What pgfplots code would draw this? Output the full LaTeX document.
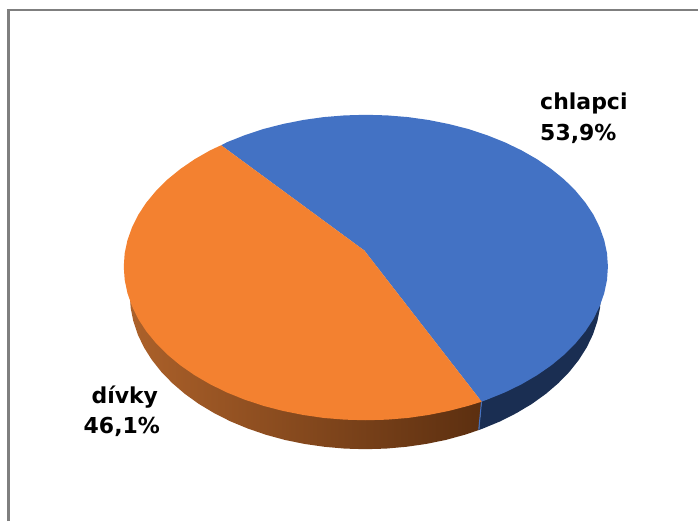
\documentclass[border=0pt]{standalone}
\usepackage{pgfplots}
\usepackage{fontspec}
\pgfplotsset{compat=1.18}
\setmainfont{DejaVu Sans}
\definecolor{boys}{RGB}{67,114,196}
\definecolor{girls}{RGB}{243,129,48}
\definecolor{boysside}{RGB}{26,46,82}
\definecolor{frameline}{RGB}{127,127,127}
\tikzset{slicelabel/.style={inner sep=0pt, text=black, font=\fontsize{22}{26}\selectfont\bfseries}}
\begin{document}
\begin{tikzpicture}
\begin{axis}[
  scale only axis, width=699pt, height=522pt,
  xmin=0, xmax=699, ymin=0, ymax=522, y dir=reverse,
  hide axis, clip=false
]
% full extent of the chart area
\path (axis cs:0,0) rectangle (axis cs:699,522);

% frame of the chart area, open on the right and at the bottom
\addplot[frameline, line width=3.2pt] coordinates {(8.5,522) (8.5,10)};
\addplot[frameline, line width=2.5pt] coordinates {(7,10) (699,10)};

% rim of the girls' slice
\addplot[draw=none, left color={rgb,255:red,172;green,97;blue,42},
         middle color={rgb,255:red,104;green,56;blue,20},
         right color={rgb,255:red,92;green,47;blue,16}] coordinates {
  (130,295) (130.9,308.5) (133.6,321.9) (138,335.1) (144.2,348) (152.1,360.5)
  (161.6,372.5) (172.7,383.9) (185.2,394.6) (199.1,404.6) (214.3,413.7)
  (230.6,422) (248,429.2) (266.3,435.5) (285.3,440.7) (304.9,444.7) (325,447.6)
  (345.4,449.4) (366,450) (386.6,449.4) (407,447.6) (427.1,444.7) (446.7,440.7)
  (465.7,435.5) (480,430.7) (482.5,402) (366,300)
} --cycle;

% rim of the boys' slice
\addplot[draw=none, fill=boysside] coordinates {
  (480,430.7) (484,429.2) (501.4,422) (517.7,413.7) (532.9,404.6) (546.8,394.6)
  (559.3,383.9) (570.4,372.5) (579.9,360.5) (587.8,348) (594,335.1) (598.4,321.9)
  (601.1,308.5) (602,295) (482.5,402)
} --cycle;
\addplot[boys, line width=1pt] coordinates {(482.3,403) (479.6,430.5)};

% top face, boys 53.9
\addplot[draw=none, fill=boys] coordinates {
  (365,251) (221.5,145.5) (227.4,142.5) (245.2,135.4) (264,129.2) (283.6,124.2)
  (303.7,120.2) (324.4,117.3) (345.4,115.6) (366.5,115) (387.6,115.6) (408.6,117.3)
  (429.3,120.2) (449.4,124.2) (469,129.2) (487.8,135.4) (505.6,142.5) (522.4,150.6)
  (538,159.5) (552.3,169.3) (565.2,179.8) (576.5,191) (586.3,202.8) (594.4,215)
  (600.7,227.7) (605.3,240.6) (608.1,253.7) (609,267) (608.1,280.4) (605.3,293.7)
  (600.7,306.9) (594.4,319.7) (586.3,332.1) (576.5,344) (565.2,355.3) (552.3,366)
  (538,375.9) (522.4,385) (505.6,393.2) (487.8,400.4) (482.5,402.4)
} --cycle;

% top face, girls 46.1
\addplot[draw=none, fill=girls] coordinates {
  (365,251) (221.5,145.5) (210.6,150.6) (195,159.5) (180.7,169.3) (167.8,179.8)
  (156.5,191) (146.7,202.8) (138.6,215) (132.3,227.7) (127.7,240.6) (124.9,253.7)
  (124,267) (124.9,280.4) (127.7,293.7) (132.3,306.9) (138.6,319.7) (146.7,332.1)
  (156.5,344) (167.8,355.3) (180.7,366) (195,375.9) (210.6,385) (227.4,393.2)
  (245.2,400.4) (264,406.6) (283.6,411.7) (303.7,415.7) (324.4,418.7) (345.4,420.4)
  (366.5,421) (387.6,420.4) (408.6,418.7) (429.3,415.7) (449.4,411.7) (469,406.6)
  (482.5,402.4)
} --cycle;

% slice labels
\node[slicelabel, anchor=base west] at (axis cs:541,110) {chlapci};
\node[slicelabel, anchor=base west] at (axis cs:541,141) {53,9\%};
\node[slicelabel, anchor=base] at (axis cs:125,404) {dívky};
\node[slicelabel, anchor=base] at (axis cs:122,434.7) {46,1\%};
\end{axis}
\end{tikzpicture}
\end{document}
